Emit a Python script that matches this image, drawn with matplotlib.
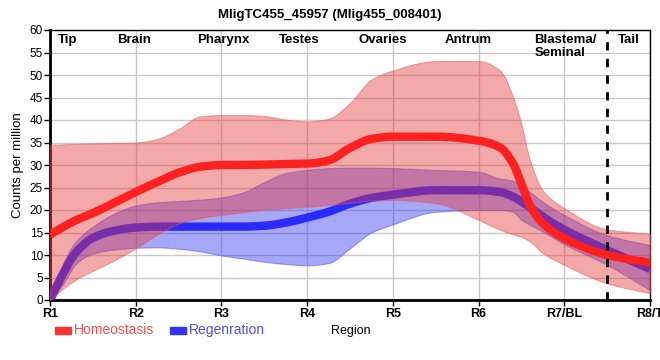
import numpy as np
import matplotlib
matplotlib.use("Agg")
import matplotlib.pyplot as plt
from matplotlib.patches import Rectangle

plt.rcParams["font.family"] = ["Liberation Sans", "DejaVu Sans"]

# ----- data (x in region units, R1 = 0 ... R8/T = 7) -----
pos = [0, 0.15, 0.3, 0.5, 0.75, 1, 1.25, 1.5, 1.75, 2, 2.25, 2.5, 2.75, 3, 3.25,
       3.5, 3.75, 4, 4.5, 5, 5.25, 5.4, 5.5, 5.6, 5.75, 6, 6.5, 7]

homeo_mean = [14.5, 16.2, 17.7, 19.3, 21.6, 24.0, 26.2, 28.3, 29.6, 30.0, 30.0, 30.1,
              30.2, 30.3, 31.0, 33.8, 35.8, 36.3, 36.3, 35.4, 33.9, 30.4, 25.8, 21.0,
              17.0, 13.7, 10.0, 8.3]
homeo_hi = [34.5, 34.6, 34.7, 34.8, 34.9, 35.0, 35.8, 38.0, 40.8, 41.1, 41.1, 40.9,
            40.1, 39.7, 40.3, 43.8, 49.0, 51.0, 53.1, 53.1, 51.0, 45.2, 39.0, 31.0,
            24.3, 20.4, 15.7, 14.7]
homeo_lo = [0, 2.5, 4.5, 6.5, 8.8, 11.5, 14.5, 17.0, 18.2, 18.9, 19.5, 20.0, 20.4,
            20.7, 21.1, 21.6, 22.1, 22.2, 21.5, 17.8, 15.6, 14.6, 14.0, 13.0, 10.4,
            7.8, 3.7, 1.5]

regen_mean = [0, 5.8, 10.5, 13.8, 15.4, 16.1, 16.3, 16.3, 16.3, 16.3, 16.3, 16.5,
              17.2, 18.3, 19.6, 21.4, 22.7, 23.4, 24.4, 24.4, 24.0, 23.0, 21.9, 20.6,
              18.5, 15.6, 11.1, 6.9]
regen_hi = [0, 8.0, 13.0, 16.3, 19.2, 21.0, 21.7, 22.0, 22.3, 22.8, 23.9, 26.2, 28.2,
            28.9, 29.3, 29.4, 29.4, 29.3, 28.9, 28.5, 27.0, 26.5, 25.3, 24.0, 21.8,
            18.9, 14.4, 12.2]
regen_lo = [0, 3.5, 8.0, 10.3, 11.2, 11.6, 11.7, 11.4, 10.8, 9.9, 9.2, 8.5, 8.0, 7.7,
            8.2, 11.5, 15.0, 16.8, 19.6, 20.0, 20.0, 19.6, 17.8, 16.7, 15.2, 12.4, 7.8,
            2.2]

region_ticks = ["R1", "R2", "R3", "R4", "R5", "R6", "R7/BL", "R8/T"]
tissue_names = ["Tip", "Brain", "Pharynx", "Testes", "Ovaries", "Antrum",
                "Blastema/\nSeminal", "Tail"]
tissue_pos = [0.09, 0.78, 1.72, 2.67, 3.6, 4.6, 5.65, 6.63]


def smooth(x, y, n=400):
    """Monotone cubic (PCHIP) curve through the read points, for drawing only."""
    x = np.asarray(x, float)
    y = np.asarray(y, float)
    h = np.diff(x)
    d = np.diff(y) / h
    m = np.zeros_like(y)
    m[0], m[-1] = d[0], d[-1]
    for k in range(1, len(x) - 1):
        if d[k - 1] * d[k] > 0:
            w1 = 2 * h[k] + h[k - 1]
            w2 = h[k] + 2 * h[k - 1]
            m[k] = (w1 + w2) / (w1 / d[k - 1] + w2 / d[k])
    xs = np.linspace(x[0], x[-1], n)
    i = np.clip(np.searchsorted(x, xs) - 1, 0, len(x) - 2)
    t = (xs - x[i]) / h[i]
    h00 = 2 * t**3 - 3 * t**2 + 1
    h10 = t**3 - 2 * t**2 + t
    h01 = -2 * t**3 + 3 * t**2
    h11 = t**3 - t**2
    ys = h00 * y[i] + h10 * h[i] * m[i] + h01 * y[i + 1] + h11 * h[i] * m[i + 1]
    return xs, ys


fig = plt.figure(figsize=(6.6, 3.6), dpi=100)
ax = fig.add_axes([50 / 660, 60 / 360, 600 / 660, 270 / 360])

red_line = "#ff2020"
red_fill = (0.90, 0.20, 0.20, 0.42)
blue_line = "#2a2aff"
blue_fill = (0.24, 0.24, 0.94, 0.45)

# regeneration first, homeostasis drawn over it
xs, lo = smooth(pos, regen_lo)
_, hi = smooth(pos, regen_hi)
ax.fill_between(xs, lo, hi, color=blue_fill, lw=0.8, edgecolor=(0.3, 0.3, 0.95, 0.5), zorder=2)
_, mid = smooth(pos, regen_mean)
ax.plot(xs, mid, color=blue_line, lw=6, solid_capstyle="butt", zorder=3)

xs, lo = smooth(pos, homeo_lo)
_, hi = smooth(pos, homeo_hi)
ax.fill_between(xs, lo, hi, color=red_fill, lw=0.8, edgecolor=(0.9, 0.35, 0.35, 0.5), zorder=4)
_, mid = smooth(pos, homeo_mean)
ax.plot(xs, mid, color=red_line, lw=6, solid_capstyle="butt", zorder=5)

ax.axvline(6.5, color="black", lw=2, ls=(0, (3, 3)), zorder=6)

for name, p in zip(tissue_names, tissue_pos):
    ax.text(p, 59.2, name, ha="left", va="top", fontsize=9.5, fontweight="bold",
            linespacing=1.2, zorder=7)

ax.set_xlim(0, 7)
ax.set_ylim(0, 60)
ax.set_xticks(range(len(region_ticks)))
ax.set_xticklabels(region_ticks, fontsize=9, fontweight="bold")
ax.set_yticks(range(0, 61, 5))
ax.tick_params(axis="y", labelsize=8.5, length=4, width=1, pad=1)
ax.tick_params(axis="x", length=4, width=1, pad=2)
ax.grid(color="#c8c8c8", lw=1)
ax.set_axisbelow(True)
for side in ["top", "right"]:
    ax.spines[side].set_linewidth(1)
for side in ["left", "bottom"]:
    ax.spines[side].set_linewidth(2)
ax.set_ylabel("Counts per million", fontsize=9.5, labelpad=4)

fig.text(0.5, 0.975, "MligTC455_45957 (Mlig455_008401)", ha="center", va="top",
         fontsize=9.5, fontweight="bold")

# ----- legend -----
fig.patches.append(Rectangle((55 / 660, 1 - 334 / 360), 16 / 660, 7 / 360,
                             transform=fig.transFigure, color="#ff3333"))
fig.text(74 / 660, 1 - 330 / 360, "Homeostasis", color="#ff4d4d", fontsize=10,
         va="center")
fig.patches.append(Rectangle((170 / 660, 1 - 334 / 360), 16 / 660, 7 / 360,
                             transform=fig.transFigure, color="#3333ff"))
fig.text(189 / 660, 1 - 330 / 360, "Regenration", color="#4d4dff", fontsize=10,
         va="center")
fig.text(331 / 660, 1 - 331 / 360, "Region", fontsize=9, va="center")

fig.savefig("out.png", dpi=100)
